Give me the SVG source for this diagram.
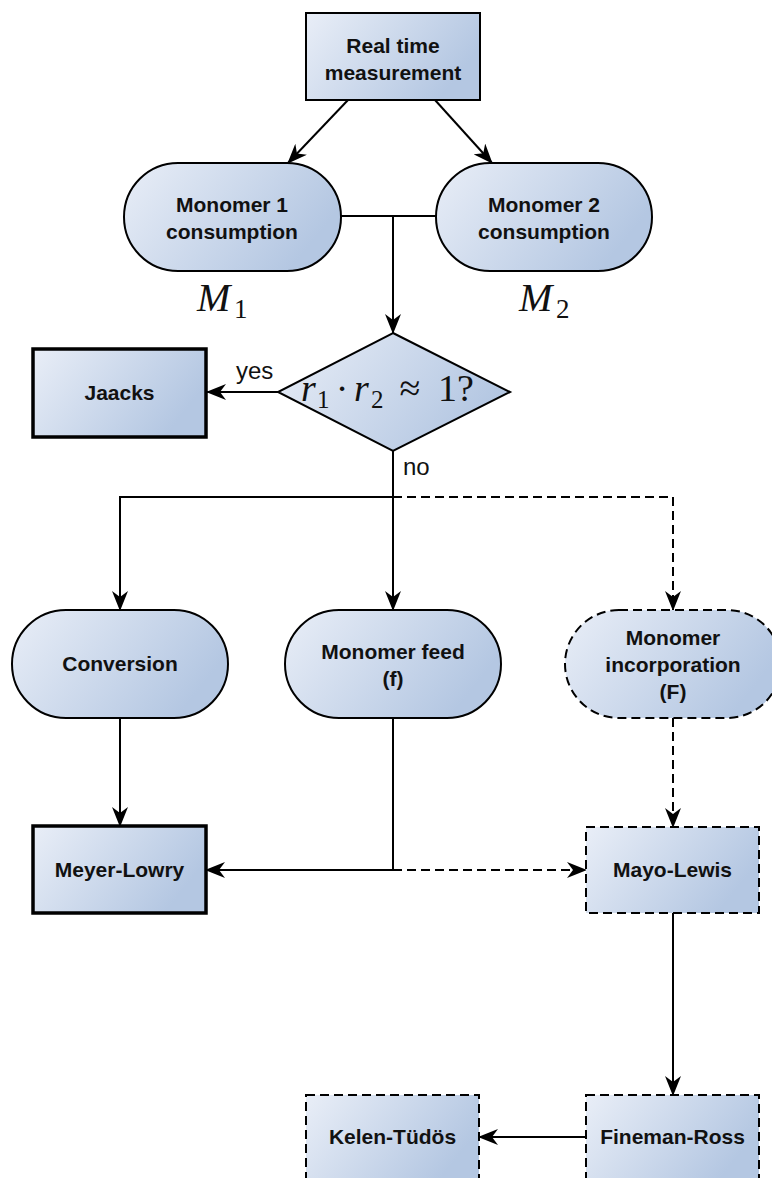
<svg xmlns="http://www.w3.org/2000/svg" width="772" height="1178" viewBox="0 0 772 1178">
<style>
.node{fill:url(#g);stroke:#000;stroke-width:2}
.thick{stroke-width:3.5}
.dash{stroke-dasharray:9 5}
.t{font-family:"Liberation Sans",Arial,sans-serif;font-weight:bold;font-size:21px;text-anchor:middle;fill:#111}
.lbl{font-family:"Liberation Sans",Arial,sans-serif;font-size:24px;fill:#111}
.m{font-family:"Liberation Serif","Times New Roman",serif;fill:#111}
.c{fill:none;stroke:#000;stroke-width:2}
.ca{fill:none;stroke:#000;stroke-width:2;marker-end:url(#ah)}
</style>
<defs>
<linearGradient id="g" x1="0" y1="0" x2="1" y2="0.4">
<stop offset="0" stop-color="#e9eef7"/>
<stop offset="1" stop-color="#b4c7e2"/>
</linearGradient>
<marker id="ah" viewBox="0 0 20 16" refX="19" refY="8" markerWidth="20" markerHeight="16" orient="auto" markerUnits="userSpaceOnUse">
<path d="M0,0 L20,8 L0,16 L6,8 Z" fill="#000"/>
</marker>
</defs>

<g id="connectors">
<path class="ca" d="M348,100 L288,163"/>
<path class="ca" d="M435,100 L492,163"/>
<path class="c" d="M436,216 H393"/>
<path class="ca" d="M341,216 H393 V333"/>
<path class="ca" d="M278,392 H207"/>
<path class="ca" d="M393,451 V610"/>
<path class="ca" d="M393,497 H120 V610"/>
<path class="ca dash" d="M393,497 H673 V610"/>
<path class="ca" d="M120,718 V826"/>
<path class="ca" d="M393,718 V870 H206"/>
<path class="ca dash" d="M393,870 H586"/>
<path class="ca dash" d="M673,718 V827"/>
<path class="ca" d="M673,913 V1095"/>
<path class="ca" d="M586,1137 H479"/>
<text class="lbl" x="236" y="379">yes</text>
<text class="lbl" x="403" y="475">no</text>
</g>

<g id="real-time">
<rect class="node" x="306" y="13" width="174" height="87"/>
<text class="t" x="393" y="53">Real time</text>
<text class="t" x="393" y="80">measurement</text>
</g>

<g id="monomer1">
<rect class="node" x="124" y="163" width="217" height="108" rx="54" ry="54"/>
<text class="t" x="232" y="212">Monomer 1</text>
<text class="t" x="232" y="239">consumption</text>
<text class="m" x="197" y="311" font-size="40" font-style="italic">M</text>
<text class="m" x="234" y="318" font-size="27">1</text>
</g>

<g id="monomer2">
<rect class="node" x="436" y="163" width="216" height="108" rx="54" ry="54"/>
<text class="t" x="544" y="212">Monomer 2</text>
<text class="t" x="544" y="239">consumption</text>
<text class="m" x="519" y="311" font-size="40" font-style="italic">M</text>
<text class="m" x="556" y="318" font-size="27">2</text>
</g>

<g id="decision">
<path class="node" d="M393,333 L510,392 L393,451 L278,392 Z"/>
<text class="m" x="301" y="401" font-size="38" font-style="italic">r</text>
<text class="m" x="317" y="408" font-size="25">1</text>
<text class="m" x="342" y="401" font-size="38" text-anchor="middle">·</text>
<text class="m" x="354" y="401" font-size="38" font-style="italic">r</text>
<text class="m" x="371" y="408" font-size="25">2</text>
<text class="m" x="410" y="401" font-size="38" text-anchor="middle">≈</text>
<text class="m" x="438" y="401" font-size="38">1?</text>
</g>

<g id="jaacks">
<rect class="node thick" x="33" y="349" width="173" height="88"/>
<text class="t" x="119.5" y="400">Jaacks</text>
</g>

<g id="conversion">
<rect class="node" x="12" y="610" width="216" height="108" rx="54" ry="54"/>
<text class="t" x="120" y="671">Conversion</text>
</g>

<g id="monomer-feed">
<rect class="node" x="285" y="610" width="216" height="108" rx="54" ry="54"/>
<text class="t" x="393" y="659">Monomer feed</text>
<text class="t" x="393" y="686">(f)</text>
</g>

<g id="monomer-incorporation">
<rect class="node dash" x="565" y="610" width="216" height="108" rx="54" ry="54"/>
<text class="t" x="673" y="645">Monomer</text>
<text class="t" x="673" y="672">incorporation</text>
<text class="t" x="673" y="699">(F)</text>
</g>

<g id="meyer-lowry">
<rect class="node thick" x="33" y="826" width="173" height="87"/>
<text class="t" x="119.5" y="877">Meyer-Lowry</text>
</g>

<g id="mayo-lewis">
<rect class="node dash" x="586" y="827" width="173" height="86"/>
<text class="t" x="672.5" y="877">Mayo-Lewis</text>
</g>

<g id="fineman-ross">
<rect class="node dash" x="586" y="1095" width="173" height="87"/>
<text class="t" x="672.5" y="1144">Fineman-Ross</text>
</g>

<g id="kelen-tudos">
<rect class="node dash" x="306" y="1095" width="173" height="87"/>
<text class="t" x="392.5" y="1144">Kelen-Tüdös</text>
</g>
</svg>
